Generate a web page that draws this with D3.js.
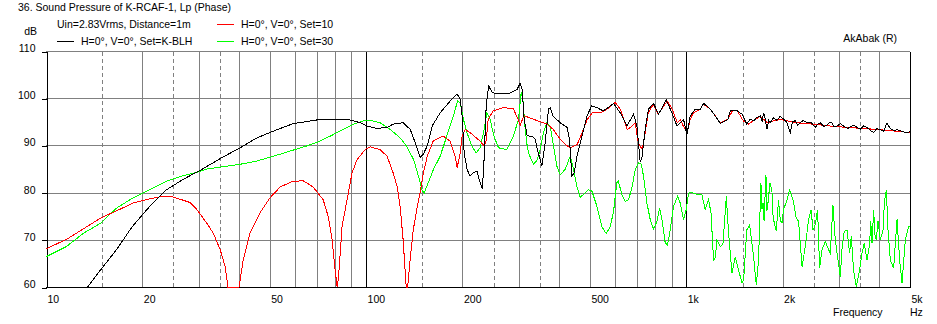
<!DOCTYPE html>
<html><head><meta charset="utf-8">
<script src="https://cdn.jsdelivr.net/npm/d3@7"></script>
<style>
body{margin:0;background:#fff;}
svg{display:block;font-family:"Liberation Sans",Arial,sans-serif;font-size:10.5px;}
</style></head><body>
<svg id="c" width="937" height="324"></svg>
<script>
const titleText = "36. Sound Pressure of K-RCAF-1, Lp (Phase)";
const conditionText = "Uin=2.83Vrms, Distance=1m";
const seriesNames = ["H=0°, V=0°, Set=K-BLH", "H=0°, V=0°, Set=10", "H=0°, V=0°, Set=30"];
const seriesColors = ["#000000", "#ff0000", "#00ff00"];
const freqTicks = [10, 20, 50, 100, 200, 500, 1000, 2000, 5000];
const freqTickLabels = ["10", "20", "50", "100", "200", "500", "1k", "2k", "5k"];
const dbTicks = [60, 70, 80, 90, 100, 110];
const majorGrid = [100, 1000];
const minorGrid = [20,30,40,50,60,70,80,90,200,300,400,500,600,700,800,900,2000,3000,4000];
const dashedGrid = [15,25,35,150,250,350,1500,2500,3500];

// [frequency Hz, dB]
const setBLH = [[10,47],[13.5,60],[14.8,63.6],[16.6,67.9],[18.6,72.8],[21.1,77.1],[23.8,80.6],[26.8,82.8],[30.3,84.7],[35.0,87.2],[40.4,89.5],[45.6,91.6],[51.2,93.0],[59.1,94.6],[70.3,95.4],[82.9,95.5],[89.1,95.4],[95.8,94.8],[100.7,94.1],[108.2,93.6],[116.3,93.8],[121.4,94.5],[130.5,94.8],[137.3,93.4],[142.3,90.6],[147.5,87.5],[150.8,88.1],[155.2,89.9],[160.8,94.1],[170.3,96.9],[183.0,99.4],[192.5,100.9],[196.7,99.8],[199.5,96.2],[202.4,88.4],[206.8,84.9],[211.3,83.5],[215.9,84.2],[222.3,84.5],[225.5,82.8],[230.4,80.8],[232.9,84.9],[237.2,98.4],[241.5,102.6],[247.7,101.2],[256.7,100.9],[281.8,101.1],[296.3,101.9],[302.8,103.2],[307.2,101.9],[311.7,95.5],[318.5,92.1],[332.5,91.8],[337.4,91.3],[342.8,89.1],[354.1,85.6],[362.5,90.6],[371.3,97.7],[375.8,98.0],[384.0,96.2],[403.9,94.8],[424.8,93.8],[431.8,91.3],[439.3,83.5],[446.7,84.2],[455.5,87.7],[472.2,92.0],[489.5,96.2],[506.7,98.4],[526.0,98.0],[551.1,97.3],[592.9,98.9],[622.0,96.9],[652.8,94.1],[684.5,96.6],[701.3,94.1],[718.2,86.5],[727.1,87.5],[744.4,93.4],[762.4,97.7],[790.4,98.9],[819.2,96.6],[866.0,99.6],[902.3,96.9],[935.3,94.1],[980.8,95.5],[1005,92.3],[1029,96.2],[1067,97.7],[1106,97.7],[1133,98.9],[1189,97.7],[1277,94.7],[1348,95.5],[1373,97.3],[1444,97.3],[1494,96.6],[1546,94.5],[1585,95.6],[1623,95.2],[1660,95.9],[1703,96.2],[1725,95.1],[1744,96.9],[1765,95.6],[1787,93.4],[1810,95.3],[1830,94.8],[1874,95.9],[1920,95.3],[1967,96.2],[2010,95.6],[2065,94.8],[2113,92.7],[2150,95.1],[2191,95.2],[2230,94.3],[2271,94.8],[2320,95.3],[2383,94.8],[2450,94.9],[2530,93.8],[2580,94.6],[2623,94.8],[2690,94.0],[2748,94.2],[2800,94.9],[2853,94.8],[2900,93.9],[2957,94.1],[3030,94.6],[3101,94.1],[3200,93.6],[3332,94.3],[3420,93.8],[3498,93.4],[3580,94.1],[3670,93.8],[3760,93.2],[3849,92.7],[3940,93.6],[4039,93.3],[4140,93.0],[4237,94.8],[4340,93.5],[4450,93.2],[4555,93.3],[4700,93.0],[4895,92.6],[5000,92.9]];

const set10 = [[10,68.1],[11.6,70.1],[14.8,74.6],[16.7,76.2],[18.7,77.8],[21.1,78.7],[22.7,79.1],[24.9,79.1],[28.2,77.9],[29.6,76.4],[31.8,73.5],[33.3,71.4],[35.0,67.9],[36.3,64.3],[37.0,60],[38.4,50],[40.1,58],[41.3,65.7],[43.4,71.4],[46.6,75.7],[50.1,78.9],[53.9,81.2],[59.1,82.4],[63.6,82.5],[68.3,81.2],[73.4,78.5],[76.1,75.0],[78.3,70.0],[80.0,63.6],[81.2,55],[82.0,62],[84.1,72.8],[87.2,78.5],[90.4,84.2],[93.7,87.0],[99.3,89.1],[102.9,89.7],[110.6,89.1],[116.3,87.7],[121.4,84.2],[125.0,81.3],[127.7,77.1],[130.5,70],[133.4,60],[134.8,50],[137.3,66],[140.3,72],[144.4,77],[147.5,80],[150.8,84],[155.2,87.7],[162.0,90.9],[174.0,92.0],[183.0,90.9],[189.7,87.7],[192.5,85.3],[196.7,88.4],[199.5,92.0],[203.9,93.4],[211.3,92.7],[227.1,90.9],[233.8,89.9],[237.2,91.0],[240.6,95.5],[249.4,97.3],[268.0,98.0],[288.0,97.8],[298.5,95.5],[303.0,94.3],[311.0,96.3],[325.4,95.8],[349.8,95.0],[367.8,94.5],[384.0,93.4],[403.9,91.3],[424.8,89.9],[434.0,89.5],[456.4,90.2],[473.2,92.7],[490.5,95.5],[508.5,96.9],[538.6,96.9],[566.3,97.7],[600.0,99.1],[622.0,97.7],[654.1,93.4],[668.4,93.8],[692.9,94.8],[707.9,90.6],[728.6,89.1],[744.4,92.7],[760.7,96.9],[788.7,98.7],[817.5,96.6],[872.2,99.4],[904.2,97.7],[937.3,94.8],[957.8,95.5],[978.7,94.1],[1007,92.7],[1029,95.5],[1052,96.9],[1106,97.7],[1130,98.7],[1189,97.7],[1277,94.8],[1348,95.5],[1393,97.3],[1444,97.3],[1508,95.2],[1563,94.5],[1620,95.2],[1703,96.2],[1791,94.8],[1870,95.2],[1967,95.5],[2068,95.2],[2223,94.8],[2494,94.5],[2818,94.1],[3185,93.8],[3574,93.6],[4039,93.3],[4564,93.0],[5000,92.7]];

const set30 = [[10,66.4],[11.6,68.6],[13.1,71.4],[14.8,73.5],[16.6,76.7],[18.7,78.9],[21.1,80.6],[23.8,82.4],[26.9,83.6],[30.3,84.5],[31.8,85.0],[40.4,86.0],[45.6,86.7],[51.3,87.7],[57.9,88.8],[65.3,89.9],[71.8,90.9],[79.0,92.3],[84.8,93.4],[91.3,94.5],[98.1,95.2],[102.9,95.3],[110.6,94.8],[118.9,93.4],[127.7,91.6],[133.5,89.9],[140.7,87.0],[145.7,83.5],[149.4,80.6],[151.8,79.8],[154.6,81.3],[162.3,84.9],[170.3,87.7],[178.7,92.0],[187.4,96.2],[192.9,99.4],[196.7,99.1],[201.4,95.5],[206.5,92.7],[213.9,89.9],[220.7,88.4],[227.1,89.5],[233.8,93.4],[238.3,96.9],[244.1,95.5],[250.6,92.0],[259.1,89.5],[274.8,89.1],[288.6,92.0],[299.2,95.5],[305.0,101.2],[308.8,99.8],[314.0,93.4],[318.5,89.9],[321.5,88.4],[333.2,86.0],[341.4,86.8],[349.8,89.1],[358.1,92.7],[367.0,94.8],[375.8,94.1],[384.9,89.9],[394.4,85.6],[403.9,83.8],[418.6,84.9],[434.0,87.7],[444.5,84.9],[455.5,81.3],[466.4,79.0],[495.0,80.6],[507.4,80.3],[526.0,77.1],[545.0,72.8],[562.3,71.3],[578.7,72.8],[592.9,76.0],[606.7,82.1],[613.8,82.4],[629.2,79.6],[644.8,78.1],[660.3,78.5],[676.6,81.0],[692.9,84.9],[709.4,86.3],[723.3,86.0],[735.5,83.5],[753.4,77.8],[771.8,74.3],[790.4,72.3],[809.9,73.9],[825.3,76.7],[839.6,74.3],[859.8,69.3],[874.1,68.9],[891.3,72.1],[912.7,77.1],[939.3,79.2],[957.8,77.8],[980.8,74.3],[1000,76.4],[1017,79.9],[1042,80.0],[1080,79.6],[1119,79.6],[1146,76.4],[1174,78.5],[1195,75.7],[1217,65.7],[1232,66.2],[1247,70.0],[1277,68.6],[1302,69.0],[1334,79.2],[1356,71.4],[1389,62.9],[1423,66.4],[1457,63.6],[1494,60.8],[1511,61.5],[1546,72.1],[1577,73.2],[1623,66.4],[1655,60.4],[1682,65.7],[1711,82.1],[1724,76.5],[1737,77.8],[1750,74.0],[1774,83.8],[1787,76.2],[1800,77.8],[1826,82.0],[1852,80.6],[1862,76.0],[1874,74.3],[1911,71.8],[1942,78.5],[1966,74.2],[1991,73.5],[2014,76.4],[2065,78.5],[2103,80.5],[2155,78.5],[2207,74.6],[2244,73.9],[2300,64.3],[2355,68.6],[2411,74.3],[2454,76.4],[2489,72.1],[2530,73.2],[2572,76.4],[2610,64.0],[2655,67.9],[2719,69.6],[2784,67.9],[2818,67.2],[2873,77.4],[2921,70.0],[2970,66.4],[3028,62.2],[3065,67.9],[3117,71.8],[3178,72.1],[3238,67.2],[3278,70.7],[3332,63.6],[3398,59],[3479,63.6],[3541,67.2],[3599,69.3],[3670,65.7],[3739,68.9],[3770,74.0],[3805,69.3],[3849,76.4],[3885,71.0],[3924,70.0],[3972,73.9],[4039,70.0],[4120,72.1],[4157,77.8],[4217,80.6],[4269,72.1],[4340,65.7],[4445,64.0],[4555,74.3],[4641,65.7],[4722,60.8],[4835,70.0],[4950,72.8],[5000,72.8]];

const svg = d3.select("#c");
const x = d3.scaleLog().domain([10, 5000]).range([46, 910]);
const y = d3.scaleLinear().domain([60, 110]).range([287, 51]);
const px = v => Math.round(x(v)) + 0.5;
const py = v => Math.round(y(v)) + 0.5;

const grid = svg.append("g").attr("shape-rendering", "crispEdges");
grid.selectAll(".hg").data(dbTicks.filter(d => d > 60)).join("line")
  .attr("x1", 46).attr("x2", 910).attr("y1", d => py(d)).attr("y2", d => py(d))
  .attr("stroke", "#808080");
grid.selectAll(".vg").data(minorGrid).join("line")
  .attr("x1", d => px(d)).attr("x2", d => px(d)).attr("y1", py(110)).attr("y2", py(60))
  .attr("stroke", "#808080");
grid.selectAll(".vd").data(dashedGrid).join("line")
  .attr("x1", d => px(d)).attr("x2", d => px(d)).attr("y1", py(110)).attr("y2", py(60))
  .attr("stroke", "#808080").attr("stroke-dasharray", "4,3");
grid.selectAll(".vm").data(majorGrid.concat([5000])).join("line")
  .attr("x1", d => px(d)).attr("x2", d => px(d)).attr("y1", py(110)).attr("y2", py(60))
  .attr("stroke", "#000");
grid.append("line").attr("x1", 46).attr("x2", 911).attr("y1", py(60)).attr("y2", py(60)).attr("stroke", "#000");

const yAxis = svg.append("g").attr("transform", "translate(46.5,0.5)")
  .call(d3.axisLeft(y).tickValues(dbTicks).tickSize(5).tickSizeOuter(0).tickFormat(d3.format("d")));
yAxis.attr("shape-rendering", "crispEdges");
yAxis.select(".domain").attr("stroke", "#000");
yAxis.selectAll(".tick line").attr("stroke", "#000");
yAxis.selectAll(".tick text").attr("x", -11).attr("dy", "0").attr("fill", "#000")
  .style("font-size", "10.5px").style("font-family", "'Liberation Sans',Arial,sans-serif");

const xAxis = svg.append("g").attr("transform", "translate(0,287)")
  .call(d3.axisBottom(x).tickValues(freqTicks).tickSize(0).tickFormat((d, i) => freqTickLabels[i]));
xAxis.select(".domain").remove();
xAxis.selectAll(".tick text").attr("x", 1).attr("y", 16).attr("dy", "0").attr("text-anchor", "start")
  .attr("fill", "#000").style("font-size", "10.5px").style("font-family", "'Liberation Sans',Arial,sans-serif");

const line = d3.line().x(d => x(d[0])).y(d => y(Math.max(60, Math.min(110, d[1]))));
const seriesData = [setBLH, set10, set30];
const drawOrder = [2, 1, 0];
svg.append("g").attr("shape-rendering", "crispEdges").selectAll("path").data(drawOrder).join("path")
  .attr("d", i => line(seriesData[i]))
  .attr("fill", "none").attr("stroke", i => seriesColors[i]).attr("stroke-width", 1);

svg.append("text").attr("x", 18).attr("y", 11).text(titleText);
svg.append("text").attr("x", 57).attr("y", 28).text(conditionText);
svg.append("text").attr("x", 37).attr("y", 35).attr("text-anchor", "end").text("dB");
svg.append("text").attr("x", 897).attr("y", 42).attr("text-anchor", "end").text("AkAbak (R)");
svg.append("text").attr("x", 833).attr("y", 316).text("Frequency");
svg.append("text").attr("x", 910).attr("y", 316).text("Hz");

const legendPos = [[57, 41], [217, 24], [217, 41]];
seriesNames.forEach((n, i) => {
  const [lx, ly] = legendPos[i];
  svg.append("line").attr("x1", lx).attr("x2", lx + 17).attr("y1", ly + 0.5).attr("y2", ly + 0.5)
    .attr("stroke", seriesColors[i]).attr("shape-rendering", "crispEdges");
  svg.append("text").attr("x", lx + 24).attr("y", ly + 4).text(n);
});
</script>
</body></html>
